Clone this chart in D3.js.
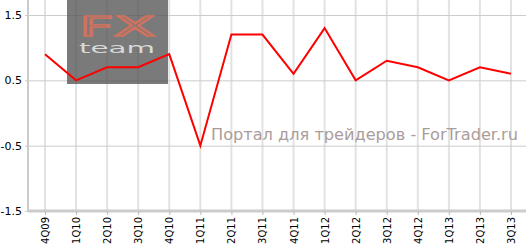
<!DOCTYPE html>
<html>
<head>
<meta charset="utf-8">
<script src="https://cdn.jsdelivr.net/npm/d3@7"></script>
<style>
body { margin: 0; background: #fff; }
svg { display: block; font-family: "DejaVu Sans", Verdana, sans-serif; }
</style>
</head>
<body>
<div id="chart"></div>
<script>
let width = 526, height = 247

let quarters = ["4Q09","1Q10","2Q10","3Q10","4Q10","1Q11","2Q11","3Q11","4Q11","1Q12","2Q12","3Q12","4Q12","1Q13","2Q13","3Q13"]
let values = [0.9, 0.5, 0.7, 0.7, 0.9, -0.5, 1.2, 1.2, 0.6, 1.3, 0.5, 0.8, 0.7, 0.5, 0.7, 0.6]
let yTicks = [-1.5, -0.5, 0.5, 1.5]

let svg = d3.select("div#chart").append("svg")
    .attr("width", width)
    .attr("height", height)

let left = 28, bottom = 211

let x = d3.scalePoint().domain(quarters).range([45, 511])
let y = d3.scaleLinear().domain([-1.5, 1.5]).range([bottom, 15])

// vertical grid
svg.append("g").selectAll("line").data(quarters).enter().append("line")
    .attr("x1", d => x(d)).attr("x2", d => x(d))
    .attr("y1", 0).attr("y2", bottom)
    .style("stroke", "#e2e2e2").style("stroke-width", 2)

// horizontal grid
svg.append("g").selectAll("line").data(yTicks).enter().append("line")
    .attr("x1", left - 3).attr("x2", width)
    .attr("y1", d => y(d) + 0.5).attr("y2", d => y(d) + 0.5)
    .style("stroke", "#cccccc").style("stroke-width", 1)

// watermark box (semi transparent)
let wm = svg.append("g")
wm.append("rect")
    .attr("x", 67).attr("y", 0).attr("width", 101).attr("height", 84)
    .style("fill", "#555").style("opacity", 0.78)
wm.append("text")
    .attr("x", 79).attr("y", 36)
    .attr("textLength", 76).attr("lengthAdjust", "spacingAndGlyphs")
    .style("font-family", "DejaVu Sans")
    .style("font-size", "27px").style("font-weight", "normal")
    .style("fill", "none").style("stroke", "#d0725e").style("stroke-width", 1.6)
    .text("FX")
wm.append("text")
    .attr("x", 79).attr("y", 53)
    .attr("textLength", 76).attr("lengthAdjust", "spacingAndGlyphs")
    .style("font-family", "DejaVu Sans")
    .style("font-size", "14px")
    .style("fill", "#d8d8d8")
    .text("team")

// axes
let yAxis = d3.axisLeft(y).tickValues(yTicks).tickSize(0).tickPadding(6)
    .tickFormat(d => d3.format(".1f")(d).replace("\u2212", "-"))
let gy = svg.append("g").attr("transform", "translate(" + left + ",0)").call(yAxis)
gy.select(".domain").attr("d", "M0,0V" + (bottom + 1)).style("stroke", "#cccccc").style("stroke-width", 2)
gy.selectAll("text").style("font-family", "DejaVu Sans").style("font-size", "11px").style("fill", "#000")

let xAxis = d3.axisBottom(x).tickSize(4).tickPadding(4)
let gx = svg.append("g").attr("transform", "translate(0," + bottom + ")").call(xAxis)
gx.select(".domain").attr("d", "M" + left + ",0H" + width).style("stroke", "#cccccc").style("stroke-width", 3)
gx.selectAll(".tick line").style("stroke", "#bbbbbb").style("stroke-width", 1)
gx.selectAll("text")
    .style("font-family", "DejaVu Sans").style("font-size", "10px").style("fill", "#000")
    .attr("transform", "rotate(-90)")
    .attr("text-anchor", "end")
    .attr("x", -6).attr("y", 0).attr("dy", "0.35em")

// site watermark text
svg.append("text")
    .attr("x", 211).attr("y", 140)
    .attr("textLength", 307).attr("lengthAdjust", "spacingAndGlyphs")
    .style("font-family", "DejaVu Sans").style("font-size", "16px")
    .style("fill", "#ab9c9a")
    .text("Портал для трейдеров - ForTrader.ru")

// line
let line = d3.line().x((d, i) => x(quarters[i])).y(d => y(d))
svg.append("path")
    .datum(values)
    .attr("d", line)
    .style("fill", "none")
    .style("stroke", "#ff0000")
    .style("stroke-width", 2)
    .style("stroke-linejoin", "miter")
</script>
</body>
</html>
